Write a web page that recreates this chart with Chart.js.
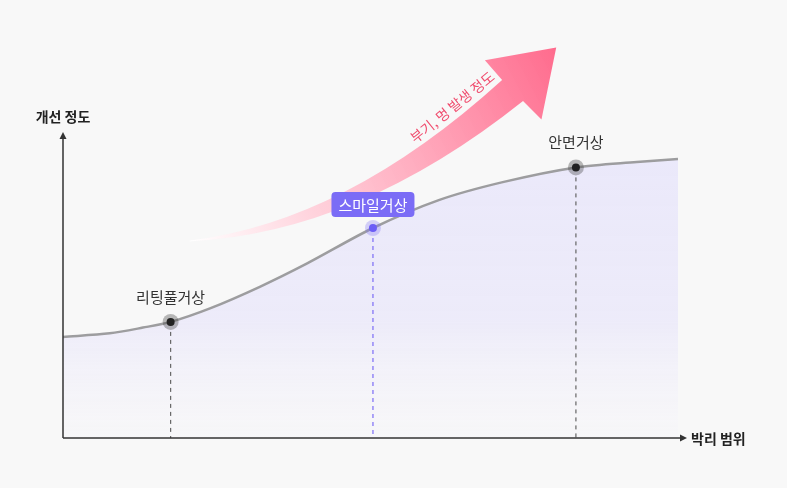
<!DOCTYPE html>
<html><head><meta charset="utf-8">
<script src="https://cdn.jsdelivr.net/npm/chart.js@4/dist/chart.umd.min.js"></script>
<style>html,body{margin:0;padding:0;background:#f8f8f8;}canvas{display:block;}</style>
</head><body>
<canvas id="c" width="787" height="488"></canvas>
<script>
// Curve: improvement degree vs. dissection range (data units 0..100)
const curveX = [0, 7.6, 13, 17.5, 23.9, 32, 39.7, 50.4, 61.1, 71.5, 83.4, 93.3, 100];
const curveY = [33.7, 34.9, 36.8, 38.7, 43.2, 50.4, 58.2, 70, 79.3, 85.3, 90.2, 92, 93];
// Procedure markers
const procNames = ['리팅풀거상', '스마일거상', '안면거상'];
const procX = [17.5, 50.4, 83.4];
const procY = [38.7, 70, 90.2];
const axisYTitle = '개선 정도';
const axisXTitle = '박리 범위';
const arrowText = '부기, 멍 발생 정도';
// Arrow annotation path (data units)
const arrowStart = [20.6, 65.8];
const arrowUpperCtrl = [46.0, 72];
const arrowUpperEnd = [71.4, 119.3];
const arrowLowerCtrl = [47.9, 68.3];
const arrowLowerEnd = [74.8, 112.3];
const arrowHead = [[68.6, 125.9], [80.2, 130.2], [77.8, 106.2]];
const arrowTextPos = [63.3, 110.3];

const FONT = '"Noto Sans CJK KR","Noto Sans",sans-serif';

const decor = {
  id: 'decor',
  afterDatasetsDraw(chart) {
    const {ctx, chartArea: a, scales: {x, y}} = chart;
    const P = p => [x.getPixelForValue(p[0]), y.getPixelForValue(p[1])];
    ctx.save();
    // dashed guide lines
    ctx.lineWidth = 1.2;
    ctx.setLineDash([4, 4]);
    procX.forEach((v, i) => {
      const px = x.getPixelForValue(v), py = y.getPixelForValue(procY[i]);
      ctx.strokeStyle = i === 1 ? '#7b6cf6' : '#666';
      ctx.beginPath(); ctx.moveTo(px, py + 10); ctx.lineTo(px, a.bottom); ctx.stroke();
    });
    ctx.setLineDash([]);
    // axes
    ctx.strokeStyle = '#333'; ctx.fillStyle = '#333'; ctx.lineWidth = 1.5;
    const x0 = a.left, y0 = a.bottom;
    ctx.beginPath(); ctx.moveTo(x0, y0); ctx.lineTo(x0, a.top - 2); ctx.stroke();
    ctx.beginPath(); ctx.moveTo(x0, a.top - 6); ctx.lineTo(x0 - 3.5, a.top + 1); ctx.lineTo(x0 + 3.5, a.top + 1); ctx.closePath(); ctx.fill();
    ctx.beginPath(); ctx.moveTo(x0, y0); ctx.lineTo(a.right + 4, y0); ctx.stroke();
    ctx.beginPath(); ctx.moveTo(a.right + 9, y0); ctx.lineTo(a.right + 2, y0 - 3.5); ctx.lineTo(a.right + 2, y0 + 3.5); ctx.closePath(); ctx.fill();
    // axis titles
    ctx.font = 'bold 14px ' + FONT; ctx.fillStyle = '#222'; ctx.textBaseline = 'middle';
    ctx.textAlign = 'center'; ctx.fillText(axisYTitle, x0, a.top - 21);
    ctx.textAlign = 'left'; ctx.fillText(axisXTitle, a.right + 13, y0 + 1);

    // arrow
    const s = P(arrowStart), uc = P(arrowUpperCtrl), ue = P(arrowUpperEnd), lc = P(arrowLowerCtrl), le = P(arrowLowerEnd);
    const h = arrowHead.map(P);
    const g = ctx.createLinearGradient(s[0], s[1], h[1][0], h[1][1]);
    g.addColorStop(0, 'rgba(255,255,255,0.9)');
    g.addColorStop(0.3, 'rgba(255,205,216,0.9)');
    g.addColorStop(1, '#ff6b8d');
    ctx.fillStyle = g;
    ctx.beginPath();
    ctx.moveTo(s[0], s[1]);
    ctx.quadraticCurveTo(uc[0], uc[1], ue[0], ue[1]);
    ctx.lineTo(h[0][0], h[0][1]); ctx.lineTo(h[1][0], h[1][1]); ctx.lineTo(h[2][0], h[2][1]);
    ctx.lineTo(le[0], le[1]);
    ctx.quadraticCurveTo(lc[0], lc[1], s[0], s[1] + 0.8);
    ctx.closePath(); ctx.fill();
    // arrow text
    const tp = P(arrowTextPos);
    ctx.save();
    ctx.translate(tp[0], tp[1]); ctx.rotate(-39 * Math.PI / 180);
    ctx.font = '14px ' + FONT; ctx.textAlign = 'center'; ctx.textBaseline = 'middle';
    ctx.fillStyle = '#f04c6e';
    ctx.fillText(arrowText, 0, 0);
    ctx.restore();

    // markers + labels
    procX.forEach((v, i) => {
      const px = x.getPixelForValue(v), py = y.getPixelForValue(procY[i]);
      const purple = i === 1;
      ctx.fillStyle = purple ? 'rgba(123,108,246,0.3)' : 'rgba(60,60,60,0.35)';
      ctx.beginPath(); ctx.arc(px, py, 8, 0, Math.PI * 2); ctx.fill();
      ctx.fillStyle = purple ? '#6b5cf6' : '#222';
      ctx.beginPath(); ctx.arc(px, py, 4, 0, Math.PI * 2); ctx.fill();
      ctx.textAlign = 'center'; ctx.textBaseline = 'middle';
      if (purple) {
        ctx.font = '15px ' + FONT;
        const w = ctx.measureText(procNames[i]).width + 14;
        const bx = px - w / 2, by = py - 36, bh = 25;
        ctx.fillStyle = '#7b6cf6';
        ctx.beginPath(); ctx.roundRect(bx, by, w, bh, 4); ctx.fill();
        ctx.fillStyle = '#fff';
        ctx.fillText(procNames[i], px, by + bh / 2 + 0.5);
      } else {
        ctx.font = '15px ' + FONT; ctx.fillStyle = '#333';
        ctx.fillText(procNames[i], px, py - 25);
      }
    });
    ctx.restore();
  }
};

new Chart(document.getElementById('c'), {
  type: 'line',
  data: {
    datasets: [{
      data: curveX.map((v, i) => ({x: v, y: curveY[i]})),
      borderColor: '#9d9d9f',
      borderWidth: 2.5,
      pointRadius: 0,
      tension: 0.3,
      fill: 'origin',
      backgroundColor: (c) => {
        const a = c.chart.chartArea;
        if (!a) return 'rgba(234,232,249,0.9)';
        const g = c.chart.ctx.createLinearGradient(0, a.top, 0, a.bottom);
        g.addColorStop(0, 'rgba(233,231,250,0.95)');
        g.addColorStop(0.6, 'rgba(235,233,249,0.9)');
        g.addColorStop(1, 'rgba(246,245,250,0.3)');
        return g;
      }
    }]
  },
  options: {
    responsive: false,
    animation: false,
    layout: {padding: {left: 63, right: 109, top: 138, bottom: 50}},
    plugins: {legend: {display: false}, tooltip: {enabled: false}},
    scales: {
      x: {type: 'linear', min: 0, max: 100, display: false},
      y: {min: 0, max: 100, display: false}
    }
  },
  plugins: [decor]
});
</script>
</body></html>
